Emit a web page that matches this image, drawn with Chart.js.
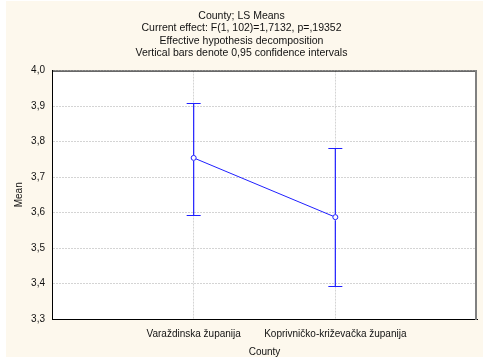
<!DOCTYPE html>
<html>
<head>
<meta charset="utf-8">
<script src="https://cdn.jsdelivr.net/npm/chart.js@4"></script>
<style>
html,body{margin:0;padding:0;background:#ffffff;}
#wrap{position:absolute;left:6px;top:1px;width:477px;height:356px;background:#fdf8ed;}
canvas{display:block;}
</style>
</head>
<body>
<div id="wrap"><canvas id="c" width="477" height="356"></canvas></div>
<script>
const categories = ['Varaždinska županija', 'Koprivničko-križevačka županija'];
const categoryPositions = [1, 2];
const means = [3.754, 3.587];
const lowerCI = [3.593, 3.393];
const upperCI = [3.910, 3.781];
const titleLines = ['County; LS Means', 'Current effect: F(1, 102)=1,7132, p=,19352', 'Effective hypothesis decomposition', 'Vertical bars denote 0,95 confidence intervals'];
const yMin = 3.3, yMax = 4.0, yStep = 0.1;

const FONT = "'Liberation Sans', Arial, sans-serif";
const BLUE = '#2020ff';

const plotBg = {
  id: 'plotBg',
  beforeDraw(chart) {
    const a = chart.chartArea, ctx = chart.ctx;
    ctx.save();
    ctx.fillStyle = '#ffffff';
    ctx.fillRect(a.left, a.top, a.right - a.left, a.bottom - a.top);
    ctx.restore();
  },
  afterDraw(chart) {
    const a = chart.chartArea, ctx = chart.ctx;
    ctx.save();
    ctx.setLineDash([]);
    ctx.strokeStyle = '#000';
    ctx.lineWidth = 1;
    ctx.beginPath();
    ctx.moveTo(a.left, a.top + 0.5);
    ctx.lineTo(a.right, a.top + 0.5);
    ctx.stroke();
    ctx.strokeStyle = '#808080';
    ctx.lineWidth = 2;
    ctx.beginPath();
    ctx.moveTo(a.right - 1, a.top);
    ctx.lineTo(a.right - 1, a.bottom + 1);
    ctx.stroke();
    ctx.restore();
  }
};

const errorBars = {
  id: 'errorBars',
  afterDatasetsDraw(chart) {
    const xs = chart.scales.x, ys = chart.scales.y, ctx = chart.ctx;
    ctx.save();
    ctx.setLineDash([]);
    ctx.globalAlpha = 1;
    ctx.globalCompositeOperation = 'source-over';
    ctx.lineWidth = 1.2;
    ctx.strokeStyle = BLUE;
    for (let i = 0; i < means.length; i++) {
      const x = xs.getPixelForValue(categoryPositions[i]);
      const ym = ys.getPixelForValue(means[i]);
      const yl = Math.round(ys.getPixelForValue(lowerCI[i])) + 0.5;
      const yu = Math.round(ys.getPixelForValue(upperCI[i])) + 0.5;
      ctx.beginPath();
      ctx.moveTo(x, yl); ctx.lineTo(x, ym + 3);
      ctx.moveTo(x, ym - 3); ctx.lineTo(x, yu);
      ctx.moveTo(x - 7, yl); ctx.lineTo(x + 7, yl);
      ctx.moveTo(x - 7, yu); ctx.lineTo(x + 7, yu);
      ctx.stroke();
    }
    ctx.restore();
  }
};

new Chart(document.getElementById('c'), {
  type: 'line',
  data: {
    datasets: [{
      data: means.map((m, i) => ({x: categoryPositions[i], y: m})),
      borderColor: BLUE,
      borderWidth: 1,
      pointRadius: 2.5,
      pointBorderWidth: 1,
      pointBackgroundColor: '#ffffff',
      pointBorderColor: BLUE,
      tension: 0
    }]
  },
  options: {
    responsive: false,
    animation: false,
    devicePixelRatio: 1,
    layout: {padding: {top: 0, right: 6, bottom: 0, left: 0}},
    plugins: {
      legend: {display: false},
      tooltip: {enabled: false},
      title: {
        display: true,
        text: titleLines,
        color: '#111',
        font: {family: FONT, size: 10.5, weight: 'normal', lineHeight: '12.4px'},
        padding: {top: 9, bottom: 11}
      }
    },
    scales: {
      x: {
        type: 'linear',
        min: 0, max: 3,
        afterBuildTicks(scale) { scale.ticks = categoryPositions.map(v => ({value: v})); },
        afterFit(scale) { scale.height = 38; },
        ticks: {
          autoSkip: false, maxRotation: 0,
          color: '#111',
          font: {family: FONT, size: 10},
          padding: 9,
          callback(v) { const i = categoryPositions.indexOf(v); return i >= 0 ? categories[i] : ''; }
        },
        grid: {color: '#d4d4d4', drawTicks: false, tickLength: 0},
        border: {display: true, color: '#000', width: 1, dash: [2, 1]},
        title: {display: true, text: 'County', color: '#111', font: {family: FONT, size: 10, lineHeight: 1.0}, padding: {top: 0, bottom: 0}}
      },
      y: {
        min: yMin, max: yMax,
        afterFit(scale) { scale.width = 46; },
        ticks: {
          stepSize: yStep,
          color: '#111',
          font: {family: FONT, size: 10},
          padding: 7,
          callback(v) { return v.toFixed(1).replace('.', ','); }
        },
        grid: {color: '#d4d4d4', drawTicks: false, tickLength: 0},
        border: {display: true, color: '#000', width: 1, dash: [2, 1]},
        title: {display: true, text: 'Mean', color: '#111', font: {family: FONT, size: 10}, padding: {top: 7, bottom: 0}}
      }
    }
  },
  plugins: [plotBg, errorBars]
});
</script>
</body>
</html>
